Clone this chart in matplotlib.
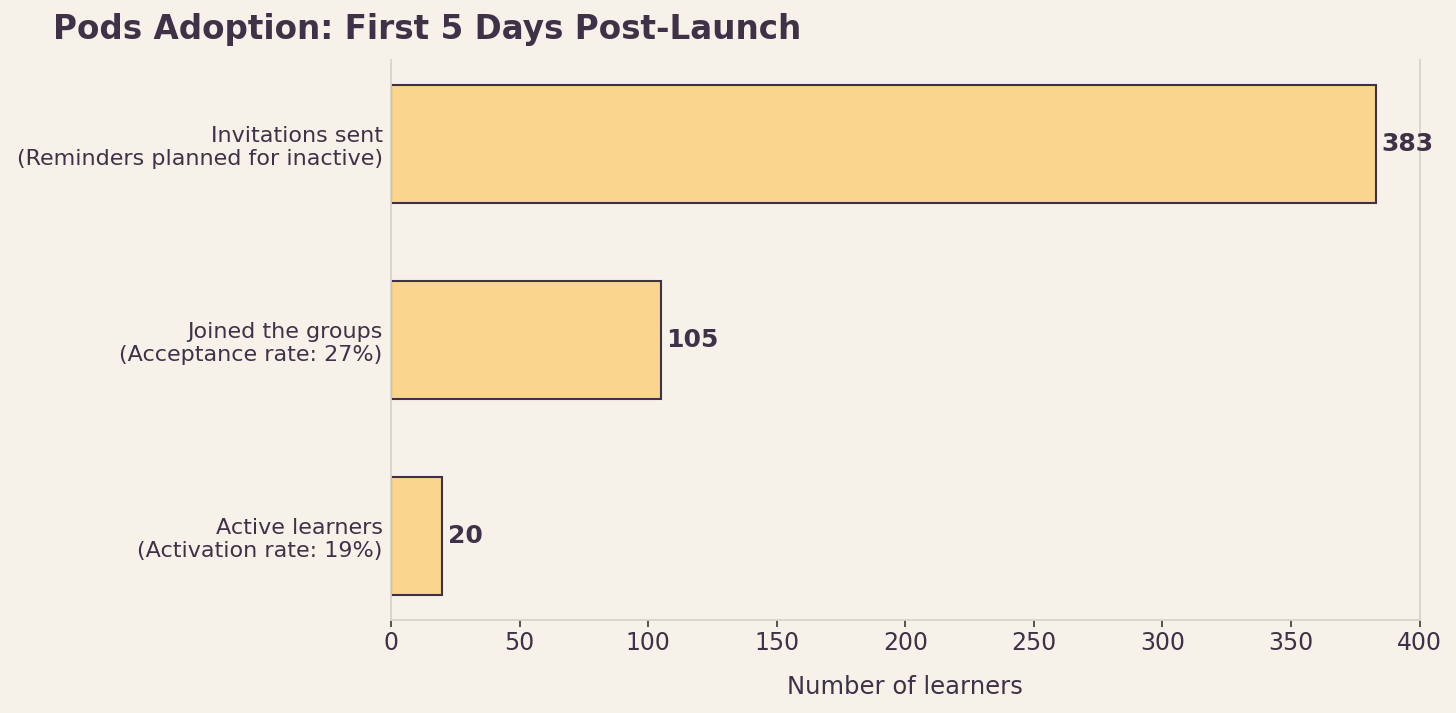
import matplotlib
matplotlib.use("Agg")
import matplotlib.pyplot as plt

# dữ liệu
stages = ["Active learners\n(Activation rate: 19%)",
          "Joined the groups\n(Acceptance rate: 27%)",
          "Invitations sent\n(Reminders planned for inactive)"]
learners = [20, 105, 383]
x_ticks = [0, 50, 100, 150, 200, 250, 300, 350, 400]

bg = "#f7f2e9"
ink = "#3f3147"
bar_fill = "#f9d58e"
spine_col = "#d8d3ca"

plt.rcParams["font.family"] = ["DejaVu Sans"]

fig, ax = plt.subplots(figsize=(14.56, 7.13), dpi=100)
fig.patch.set_facecolor(bg)
ax.set_facecolor(bg)

bars = ax.barh(stages, learners, height=0.6, color=bar_fill,
               edgecolor=ink, linewidth=1.5)

# số trên mỗi thanh
for b, v in zip(bars, learners):
    ax.text(b.get_width() + 2, b.get_y() + b.get_height() / 2, str(v),
            va="center", ha="left", fontsize=18, fontweight="bold", color=ink)

ax.set_xlim(0, 400)
ax.set_xticks(x_ticks)
ax.tick_params(axis="x", labelsize=17, colors=ink, length=5, width=1.2, pad=3)
ax.tick_params(axis="y", labelsize=16, colors=ink, length=0, pad=6)
ax.set_xlabel("Number of learners", fontsize=17.5, color=ink, labelpad=14)

ax.spines["top"].set_visible(False)
for s in ["left", "bottom", "right"]:
    ax.spines[s].set_color(spine_col)
    ax.spines[s].set_linewidth(1.3)

ax.set_title("Pods Adoption: First 5 Days Post-Launch", fontsize=23.5,
             fontweight="bold", color=ink, loc="left", x=-0.329, pad=15)

fig.subplots_adjust(left=0.2685, right=0.975, top=0.916, bottom=0.13)
fig.savefig("out.png", dpi=100, facecolor=bg)
